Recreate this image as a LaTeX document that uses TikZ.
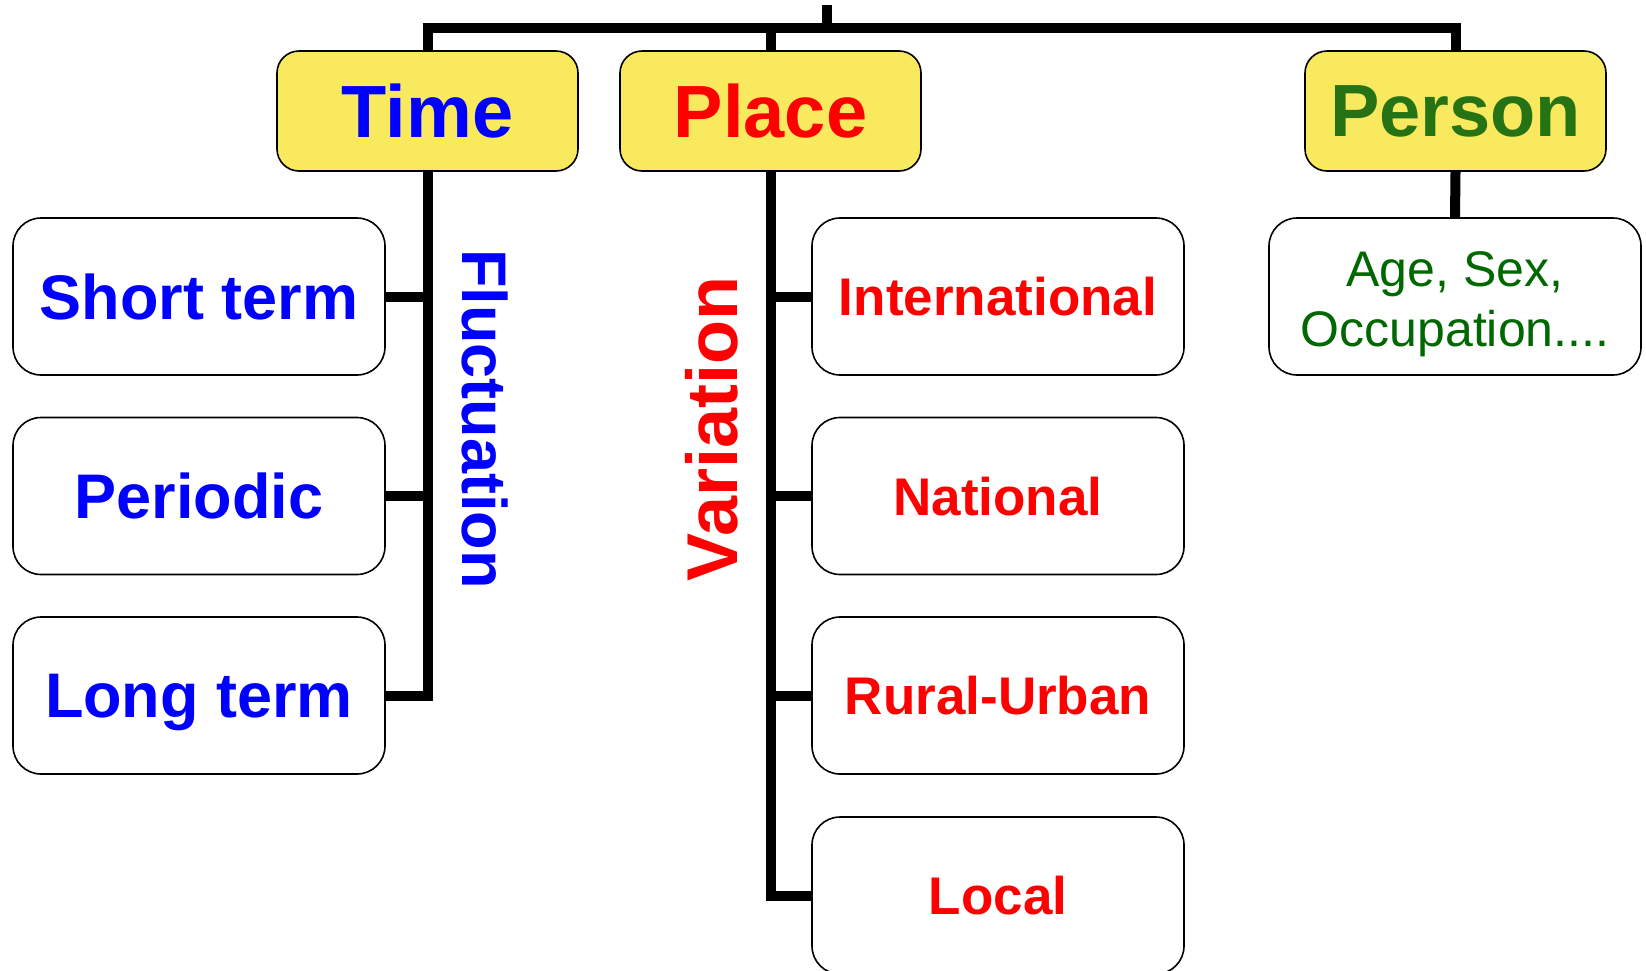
\documentclass[tikz,border=0pt]{standalone}
\usepackage{fontspec}
\setmainfont{Liberation Sans}
\definecolor{boxyellow}{RGB}{249,233,94}
\definecolor{persongreen}{RGB}{38,115,22}
\definecolor{agegreen}{RGB}{0,104,0}
\begin{document}
\begin{tikzpicture}[x=1pt,y=-1pt,
  head/.style={draw=black,line width=1.6pt,fill=boxyellow,rounded corners=22pt,
    minimum width=301pt,minimum height=120pt,inner sep=0pt,
    font=\fontsize{74}{80}\selectfont\bfseries},
  sub/.style={draw=black,line width=1.6pt,fill=white,rounded corners=28pt,
    minimum width=372pt,minimum height=157pt,inner sep=0pt},
  tfont/.style={font=\fontsize{63}{70}\selectfont\bfseries,text=blue,text depth=0pt},
  pfont/.style={font=\fontsize{53}{60}\selectfont\bfseries,text=red,text depth=0pt},
  conn/.style={line width=10pt,line join=miter,draw=black}]
\useasboundingbox (0,0) rectangle (1646,970);
% heads
\node[head,text=blue] (time) at (427.5,111) {Time};
\node[head,text=red] (place) at (770.5,111) {Place};
\node[head,text=persongreen] (person) at (1455.5,111) {Person};
% time items
\node[sub,tfont] (short) at (199,296.5) {Short term};
\node[sub,tfont] (periodic) at (199,496) {Periodic};
\node[sub,tfont] (long) at (199,695.5) {Long term};
% place items
\node[sub,pfont] (intl) at (998,296.5) {International};
\node[sub,pfont] (natl) at (998,496) {National};
\node[sub,pfont] (rural) at (998,695.5) {Rural-Urban};
\node[sub,pfont] (local) at (998,895.5) {Local};
% person item
\node[sub,align=center,text=agegreen,font=\fontsize{50}{60}\selectfont] (age) at (1455,296.5) {};
\node[align=center,text=agegreen,font=\fontsize{50}{60}\selectfont,inner sep=0pt] (agetext) at (1455,304) {Age, Sex,\\Occupation....};
% side labels
\node[rotate=-90,text=blue,font=\fontsize{63}{70}\selectfont\bfseries] (fluct) at (485,419) {Fluctuation};
\node[rotate=90,text=red,font=\fontsize{72}{80}\selectfont\bfseries] (varia) at (712,429) {Variation};
% connectors
\coordinate (bus) at (0,28);
\coordinate (tick) at (827,5);
\draw[conn] (time.north) -- (time.north |- bus) -- (person.north |- bus) -- (person.north);
\draw[conn] (place.north) -- (place.north |- bus);
\draw[conn] (tick) -- (tick |- bus);
\draw[conn] (time.south) -- (time.south |- long.east) -- (long.east);
\draw[conn] (short.east) -- (time.south |- short.east);
\draw[conn] (periodic.east) -- (time.south |- periodic.east);
\draw[conn] (place.south) -- (place.south |- local.west) -- (local.west);
\draw[conn] (intl.west) -- (place.south |- intl.west);
\draw[conn] (natl.west) -- (place.south |- natl.west);
\draw[conn] (rural.west) -- (place.south |- rural.west);
\draw[conn] (person.south) -- (age.north);
\end{tikzpicture}
\end{document}
